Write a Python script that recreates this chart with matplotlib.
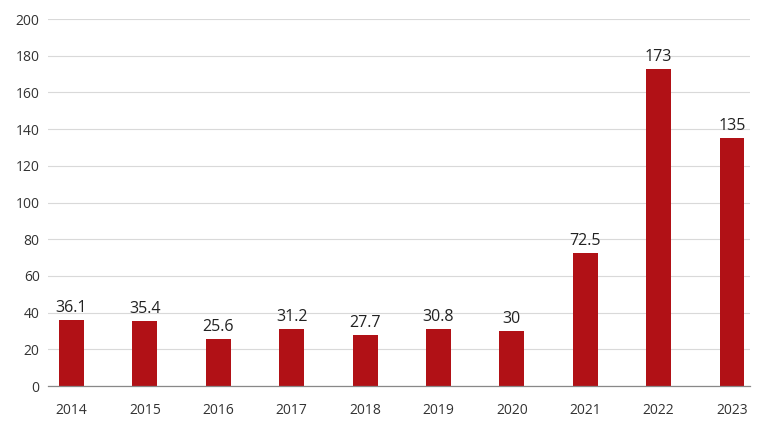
import matplotlib
matplotlib.use("Agg")
import matplotlib.pyplot as plt

years = ["2014", "2015", "2016", "2017", "2018", "2019", "2020", "2021", "2022", "2023"]
values = [36.1, 35.4, 25.6, 31.2, 27.7, 30.8, 30, 72.5, 173, 135]
labels = ["36.1", "35.4", "25.6", "31.2", "27.7", "30.8", "30", "72.5", "173", "135"]
yticks = [0, 20, 40, 60, 80, 100, 120, 140, 160, 180, 200]

plt.rcParams['font.family'] = ['Open Sans', 'DejaVu Sans']

fig = plt.figure(figsize=(7.76, 4.30), dpi=100)
ax = fig.add_axes([0.0619, 0.1023, 0.9046, 0.8535])

x = list(range(len(years)))
bars = ax.bar(x, values, width=0.34, color="#b11116", zorder=3)
for xi, v, lab in zip(x, values, labels):
    ax.text(xi, v + 2.2, lab, ha="center", va="bottom", fontsize=11.5, color="#222222", zorder=4)

ax.set_xlim(-0.32, 9.245)
ax.set_ylim(0, 200)
ax.set_yticks(yticks)
ax.set_xticks(x)
ax.set_xticklabels(years)
ax.grid(axis="y", color="#d9d9d9", linewidth=0.8, zorder=0)
for s in ["top", "right", "left"]:
    ax.spines[s].set_visible(False)
ax.spines["bottom"].set_color("#888888")
ax.spines["bottom"].set_linewidth(0.9)
ax.spines["bottom"].set_zorder(5)
ax.tick_params(axis="both", length=0, labelsize=10, colors="#333333")
ax.tick_params(axis="x", pad=12)
ax.tick_params(axis="y", pad=6)

fig.savefig("out.png", dpi=100)
